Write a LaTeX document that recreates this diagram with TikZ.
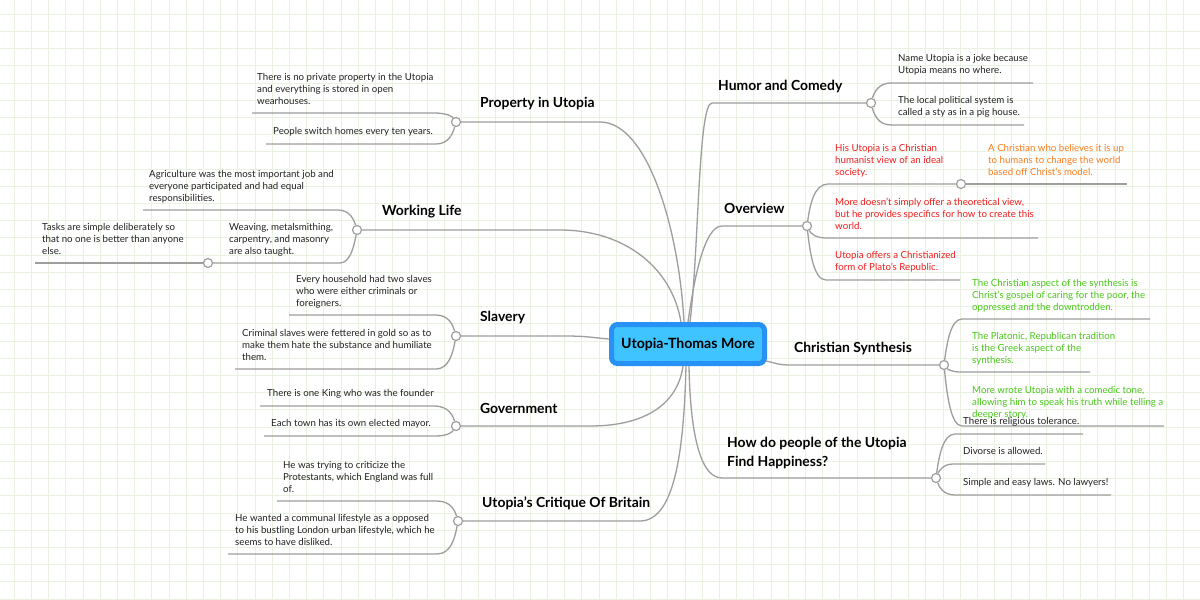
\documentclass[tikz,border=0pt]{standalone}
\usepackage{fontspec}
\setmainfont{Lato}
\usetikzlibrary{calc}
\definecolor{gridc}{RGB}{233,242,225}
\definecolor{linec}{RGB}{158,158,158}
\definecolor{rootb}{RGB}{40,145,245}
\definecolor{rootf}{RGB}{64,196,255}
\definecolor{redt}{RGB}{240,30,30}
\definecolor{oranget}{RGB}{250,125,30}
\definecolor{greent}{RGB}{72,200,24}
\definecolor{bodyt}{RGB}{34,34,34}
\tikzset{
 conn/.style={draw=linec, line width=1.3pt},
 gridl/.style={draw=gridc, line width=0.9pt},
 dot/.style={circle, draw=linec, fill=white, line width=1.2pt, minimum size=9pt, inner sep=0pt},
 txt/.style={anchor=north west, inner sep=0pt, align=left, text=bodyt, font=\fontsize{9.7}{12}\selectfont},
 ttl/.style={anchor=west, inner sep=0pt, text=black, font=\bfseries\fontsize{13.9}{19}\selectfont, align=left},
 rootbox/.style={draw=rootb, fill=rootf, line width=5pt, rounded corners=6pt, minimum width=153pt, minimum height=39pt, font=\bfseries\fontsize{14.1}{15}\selectfont, inner sep=0pt},
}
% #1 circle name, #2 cx, #3 cy, #4 line y, #5 x where curve meets line, #6 far end x
\newcommand{\kidL}[6]{\draw[conn] (#1) .. controls (#2-3,0.5*#3+0.5*#4) and (#2-7,#4) .. (#5,#4) -- (#6,#4);}
\newcommand{\kidR}[6]{\draw[conn] (#1) .. controls (#2+3,0.5*#3+0.5*#4) and (#2+7,#4) .. (#5,#4) -- (#6,#4);}
\begin{document}
\begin{tikzpicture}[x=1pt,y=-1pt]
\useasboundingbox (0,0) rectangle (1200,600);
\fill[white] (0,0) rectangle (1200,600);
\foreach \i in {0,...,68} {\draw[gridl] (14.3+17.2*\i,0) -- (14.3+17.2*\i,600);}
\foreach \i in {0,...,34} {\draw[gridl] (0,14.3+17.2*\i) -- (1200,14.3+17.2*\i);}

% root
\node[rootbox] (root) at (688,344) {Utopia-Thomas More};

% titles
\node[ttl] (hP) at (480,104) {Property in Utopia};
\node[ttl] (hW) at (382,212) {Working Life};
\node[ttl] (hS) at (480,317) {Slavery};
\node[ttl] (hG) at (480,408) {Government};
\node[ttl] (hC) at (482,503) {Utopia's Critique Of Britain};
\node[ttl] (hH) at (718,86) {Humor and Comedy};
\node[ttl] (hO) at (724,208) {Overview};
\node[ttl] (hCS) at (794,348) {Christian Synthesis};
\node[ttl] (hHow) at (727,452.5) {How do people of the Utopia\\Find Happiness?};

% circles
\node[dot] (cP) at (456,122) {};
\node[dot] (cW) at (357,230) {};
\node[dot] (cW2) at (208,263) {};
\node[dot] (cS) at (456,336) {};
\node[dot] (cG) at (456,426) {};
\node[dot] (cC) at (458,521) {};
\node[dot] (cH) at (871,103) {};
\node[dot] (cO) at (807,226) {};
\node[dot] (cO2) at (961,184) {};
\node[dot] (cCS) at (944,365) {};
\node[dot] (cHow) at (936,478) {};

% main connectors
\draw[conn] (cP) -- (600,122) .. controls (648,122) and (679,230) .. ($(root.north)+(-4,0)$);
\draw[conn] (cW) -- (560,230) .. controls (625,230) and (672,268) .. ($(root.north)+(-7,0)$);
\draw[conn] (cS) -- (565,336) .. controls (588,336) and (595,338) .. ($(root.west)+(0,-5)$);
\draw[conn] (cG) -- (590,426) .. controls (648,426) and (678,402) .. ($(root.south)+(-5,0)$);
\draw[conn] (cC) -- (640,521) .. controls (676,521) and (684,445) .. ($(root.south)+(-2,0)$);
\draw[conn] (cH) -- (712,103) .. controls (698,103) and (699,250) .. ($(root.north)+(2,0)$);
\draw[conn] (cO) -- (722,226) .. controls (704,226) and (694,280) .. ($(root.north)+(0,0)$);
\draw[conn] (cCS) -- (790,365) .. controls (777,365) and (772,362) .. ($(root.east)+(-1,17)$);
\draw[conn] (cHow) -- (722,478) .. controls (697,478) and (690,420) .. ($(root.south)+(1,0)$);

% child connectors, left
\kidL{cP}{456}{122}{113}{434}{252}
\kidL{cP}{456}{122}{144}{436}{266}
\kidL{cW}{357}{230}{210}{338}{143}
\kidL{cW}{357}{230}{263}{340}{212}
\draw[conn] (cW2) -- (35,263);
\kidL{cS}{456}{336}{315}{436}{289}
\kidL{cS}{456}{336}{369}{436}{235}
\kidL{cG}{456}{426}{406}{434}{260}
\kidL{cG}{456}{426}{436}{436}{264}
\kidL{cC}{458}{521}{501}{437}{277}
\kidL{cC}{458}{521}{554}{437}{228}

% child connectors, right
\kidR{cH}{871}{103}{83}{891}{1033}
\kidR{cH}{871}{103}{125}{891}{1024}
\draw[conn] (cO) .. controls (810,205) and (814,184) .. (828,184) -- (cO2);
\draw[conn] (cO2) -- (1127,184);
\kidR{cO}{807}{226}{238}{826}{1038}
\kidR{cO}{807}{226}{280}{826}{960}
\kidR{cCS}{944}{365}{319}{962}{1150}
\kidR{cCS}{944}{365}{372}{960}{1090}
\kidR{cCS}{944}{365}{426}{962}{1164}
\kidR{cHow}{936}{478}{434}{955}{1083}
\kidR{cHow}{936}{478}{464}{953}{1045}
\kidR{cHow}{936}{478}{495}{955}{1111}

% texts left
\node[txt] (tP1) at (257,73) {There is no private property in the Utopia\\and everything is stored in open\\wearhouses.};
\node[txt] (tP2) at (273,127) {People switch homes every ten years.};
\node[txt] (tW1) at (149,170) {Agriculture was the most important job and\\everyone participated and had equal\\responsibilities.};
\node[txt] (tW2) at (229,223) {Weaving, metalsmithing,\\carpentry, and masonry\\are also taught.};
\node[txt] (tW3) at (42,223) {Tasks are simple deliberately so\\that no one is better than anyone\\else.};
\node[txt] (tS1) at (296,275) {Every household had two slaves\\who were either criminals or\\foreigners.};
\node[txt] (tS2) at (242,329) {Criminal slaves were fettered in gold so as to\\make them hate the substance and humiliate\\them.};
\node[txt] (tG1) at (267,389) {There is one King who was the founder};
\node[txt] (tG2) at (271,419) {Each town has its own elected mayor.};
\node[txt] (tC1) at (283,461) {He was trying to criticize the\\Protestants, which England was full\\of.};
\node[txt] (tC2) at (235,514) {He wanted a communal lifestyle as a opposed\\to his bustling London urban lifestyle, which he\\seems to have disliked.};

% texts right
\node[txt] (tH1) at (898,54) {Name Utopia is a joke because\\Utopia means no where.};
\node[txt] (tH2) at (898,96) {The local political system is\\called a sty as in a pig house.};
\node[txt, text=redt] (tO1) at (835,144) {His Utopia is a Christian\\humanist view of an ideal\\society.};
\node[txt, text=oranget] (tO1a) at (988,144) {A Christian who believes it is up\\to humans to change the world\\based off Christ's model.};
\node[txt, text=redt] (tO2) at (835,198) {More doesn't simply offer a theoretical view,\\but he provides specifics for how to create this\\world.};
\node[txt, text=redt] (tO3) at (835,251) {Utopia offers a Christianized\\form of Plato's Republic.};
\node[txt, text=greent] (tCS1) at (972,279) {The Christian aspect of the synthesis is\\Christ's gospel of caring for the poor, the\\oppressed and the downtrodden.};
\node[txt, text=greent] (tCS2) at (972,332) {The Platonic, Republican tradition\\is the Greek aspect of the\\synthesis.};
\node[txt, text=greent] (tCS3) at (972,386) {More wrote Utopia with a comedic tone,\\allowing him to speak his truth while telling a\\deeper story.};
\node[txt] (tHow1) at (963,417) {There is religious tolerance.};
\node[txt] (tHow2) at (963,447) {Divorse is allowed.};
\node[txt] (tHow3) at (963,478) {Simple and easy laws. No lawyers!};
\end{tikzpicture}
\end{document}
